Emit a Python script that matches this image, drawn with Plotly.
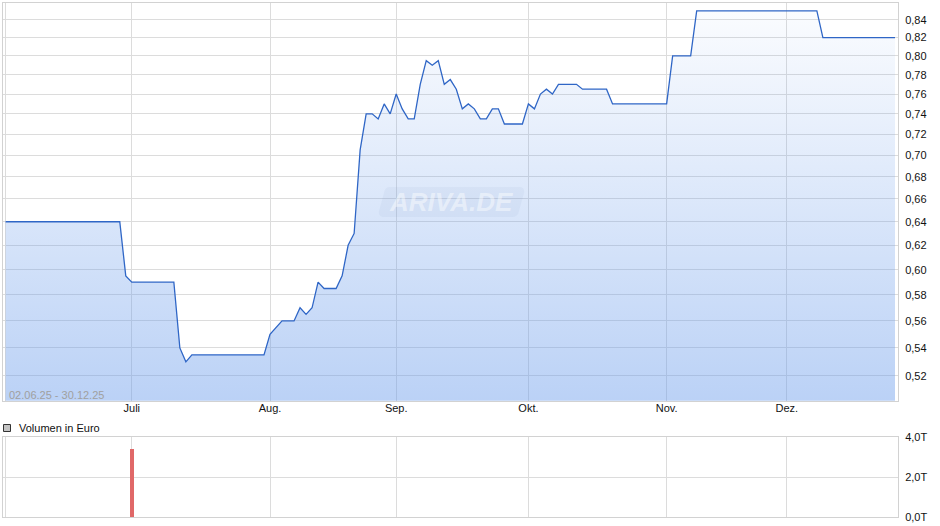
import pandas as pd
import plotly.graph_objects as go

# ---------------- data ----------------
holidays = ["2025-12-24", "2025-12-25", "2025-12-26"]
dates = [d.strftime("%Y-%m-%d") for d in pd.bdate_range("2025-06-02", "2025-12-30")
         if d.strftime("%Y-%m-%d") not in holidays]

prices_jun = [0.64, 0.64, 0.64, 0.64, 0.64, 0.64, 0.64, 0.64, 0.64, 0.64,
              0.64, 0.64, 0.64, 0.64, 0.64, 0.64, 0.64, 0.64, 0.64, 0.64, 0.595]
prices_jul = [0.59, 0.59, 0.59, 0.59, 0.59, 0.59, 0.59, 0.59, 0.54, 0.53,
              0.535, 0.535, 0.535, 0.535, 0.535, 0.535, 0.535, 0.535, 0.535, 0.535,
              0.535, 0.535, 0.535]
prices_aug = [0.55, 0.555, 0.56, 0.56, 0.56, 0.57, 0.565, 0.57, 0.59, 0.585,
              0.585, 0.585, 0.595, 0.62, 0.63, 0.705, 0.74, 0.74, 0.735, 0.75, 0.74]
prices_sep = [0.76, 0.745, 0.735, 0.735, 0.77, 0.795, 0.79, 0.795, 0.77, 0.775,
              0.765, 0.745, 0.75, 0.745, 0.735, 0.735, 0.745, 0.745, 0.73, 0.73,
              0.73, 0.73]
prices_oct = [0.75, 0.745, 0.76, 0.765, 0.76, 0.77, 0.77, 0.77, 0.77, 0.765,
              0.765, 0.765, 0.765, 0.765, 0.75, 0.75, 0.75, 0.75, 0.75, 0.75,
              0.75, 0.75, 0.75]
prices_nov = [0.75, 0.80, 0.80, 0.80, 0.80, 0.85, 0.85, 0.85, 0.85, 0.85,
              0.85, 0.85, 0.85, 0.85, 0.85, 0.85, 0.85, 0.85, 0.85, 0.85]
prices_dec = [0.85, 0.85, 0.85, 0.85, 0.85, 0.85, 0.82, 0.82, 0.82, 0.82,
              0.82, 0.82, 0.82, 0.82, 0.82, 0.82, 0.82, 0.82, 0.82]
prices = prices_jun + prices_jul + prices_aug + prices_sep + prices_oct + prices_nov + prices_dec

vol_dates = ["2025-07-01"]
vol_values = [3400]

month_ticks = ["2025-06-02", "2025-07-01", "2025-08-01", "2025-09-01",
               "2025-10-01", "2025-11-03", "2025-12-01"]
month_labels = ["", "Juli", "Aug.", "Sep.", "Okt.", "Nov.", "Dez."]

price_ticks = [0.52, 0.54, 0.56, 0.58, 0.60, 0.62, 0.64, 0.66, 0.68, 0.70,
               0.72, 0.74, 0.76, 0.78, 0.80, 0.82, 0.84]
price_labels = [f"{v:.2f}".replace(".", ",") for v in price_ticks]
vol_ticks = [0, 2000, 4000]
vol_labels = ["0,0T", "2,0T", "4,0T"]

# ---------------- layout helpers ----------------
W, H = 940, 526
ML, MR, MT, MB = 3, 42, 3, 9
PW, PH = W - ML - MR, H - MT - MB


def px(x):
    return (x - ML) / PW


def py(y):
    return (H - MB - y) / PH


GRID = "#dcdcdc"
BORDER = "#d2d2d2"
FONT = "Liberation Sans, Arial, sans-serif"
base = [0.5] * len(dates)

fig = go.Figure()
fig.add_trace(go.Scatter(x=dates, y=base, mode="lines", line=dict(width=0),
                         hoverinfo="skip", showlegend=False, xaxis="x", yaxis="y"))
fig.add_trace(go.Scatter(
    x=dates, y=prices, mode="lines", fill="tonexty",
    line=dict(color="#2f66c6", width=1.3),
    fillgradient=dict(type="vertical", start=0.5, stop=0.86,
                      colorscale=[[0, "rgba(105,155,235,0.46)"],
                                  [1, "rgba(105,155,235,0.02)"]]),
    showlegend=False, xaxis="x", yaxis="y"))
fig.add_trace(go.Bar(x=vol_dates, y=vol_values, marker=dict(color="#e06868", line=dict(width=0)),
                     width=0.68, showlegend=False, xaxis="x2", yaxis="y2"))

xr = [-0.43, len(dates) - 1 + 0.5]
common_x = dict(type="category", categoryorder="array", categoryarray=dates,
                tickvals=month_ticks, ticktext=month_labels, range=xr,
                showgrid=True, gridcolor=GRID, gridwidth=1, zeroline=False,
                showline=True, linecolor=BORDER, mirror=True, ticks="",
                automargin=False)

yfont = dict(family=FONT, size=11, color="#111")
fig.update_layout(
    width=W, height=H,
    margin=dict(l=ML, r=MR, t=MT, b=MB, pad=0, autoexpand=False),
    paper_bgcolor="white", plot_bgcolor="white",
    font=dict(family=FONT, size=11, color="#111"),
    xaxis=dict(domain=[0, 1], anchor="y", tickfont=yfont, ticklabelstandoff=-3, **common_x),
    yaxis=dict(domain=[py(400.7), 1], type="log", range=[-0.29845, -0.06595],
               side="right", tickvals=price_ticks, ticktext=price_labels,
               showgrid=True, gridcolor=GRID, zeroline=False,
               showline=True, linecolor=BORDER, mirror=True, ticks="",
               ticklabelstandoff=4, tickfont=yfont, automargin=False),
    xaxis2=dict(domain=[0, 1], anchor="y2", showticklabels=False, **common_x),
    yaxis2=dict(domain=[0, py(437.3)], range=[0, 4000], side="right",
                tickvals=vol_ticks, ticktext=vol_labels,
                showgrid=True, gridcolor=GRID, zeroline=False,
                showline=True, linecolor=BORDER, mirror=True, ticks="",
                ticklabelstandoff=4, tickfont=yfont, automargin=False),
    bargap=0,
)

# watermark box (skewed rounded rectangle)
x0, x1, y0, y1 = 378, 525, 187, 217
sk = 5
path = (f"M {px(x0+sk+6)},{py(y0)} L {px(x1-6)},{py(y0)} Q {px(x1)},{py(y0)} {px(x1-1)},{py(y0+6)} "
        f"L {px(x1-sk-1)},{py(y1-6)} Q {px(x1-sk-2)},{py(y1)} {px(x1-sk-8)},{py(y1)} "
        f"L {px(x0+6)},{py(y1)} Q {px(x0)},{py(y1)} {px(x0+1)},{py(y1-6)} "
        f"L {px(x0+sk+1)},{py(y0+6)} Q {px(x0+sk+2)},{py(y0)} {px(x0+sk+6)},{py(y0)} Z")
fig.add_shape(type="path", path=path, xref="paper", yref="paper",
              fillcolor="rgba(120,140,185,0.07)", line=dict(width=0), layer="above")
fig.add_annotation(x=px(451), y=py(202), xref="paper", yref="paper", text="ARIVA.DE",
                   showarrow=False, xanchor="center", yanchor="middle",
                   font=dict(family=FONT, size=26, color="rgba(255,255,255,0.45)",
                             weight="bold", style="italic"))

# date range label
fig.add_annotation(x=px(7), y=py(395), xref="paper", yref="paper", text="02.06.25 - 30.12.25",
                   showarrow=False, xanchor="left", yanchor="middle",
                   font=dict(family=FONT, size=11, color="#a0a0a0"))

# volume legend
fig.add_shape(type="rect", xref="paper", yref="paper",
              x0=px(3.5), x1=px(10.5), y0=py(431.5), y1=py(424.5),
              fillcolor="#c4c4c4", line=dict(color="#333", width=1))
fig.add_annotation(x=px(17), y=py(428), xref="paper", yref="paper", text="Volumen in Euro",
                   showarrow=False, xanchor="left", yanchor="middle",
                   font=dict(family=FONT, size=11, color="#111"))

fig.write_html("out.html", config={"displayModeBar": False},
               post_script="document.body.style.margin='0';document.body.style.overflow='hidden';")
